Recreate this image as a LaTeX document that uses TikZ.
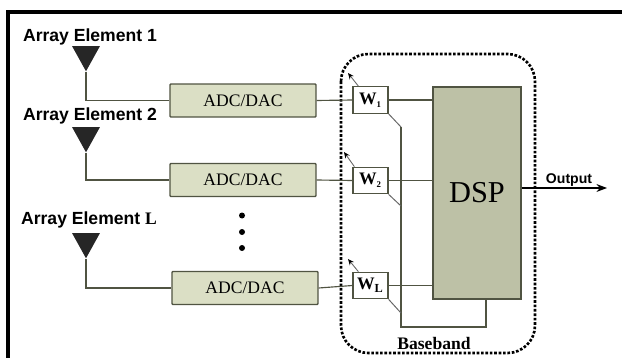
\documentclass[tikz,border=0pt]{standalone}
\usepackage{fontspec}
\setmainfont{Liberation Serif}
\newfontfamily\labelfont{Liberation Sans}
\usepackage{tikz}
\usetikzlibrary{positioning, shapes.geometric, calc, arrows.meta}
\usepackage{xcolor}
\definecolor{adcfill}{RGB}{219,223,197}
\definecolor{dspfill}{RGB}{189,193,166}
\definecolor{wireclr}{RGB}{80,84,66}

\begin{document}
\begin{tikzpicture}[
    x=0.02cm, y=-0.02cm,
    adc/.style={rectangle, draw=wireclr, fill=adcfill, line width=0.8pt, rounded corners=0.5pt, minimum width=2.92cm, minimum height=0.66cm, font=\normalsize},
    weight/.style={rectangle, draw=wireclr, fill=white, line width=0.7pt, minimum width=0.7cm, minimum height=0.53cm, inner sep=0pt, font=\bfseries\normalsize},
    ant/.style={isosceles triangle, isosceles triangle apex angle=58, shape border rotate=-90, fill=black!85, inner sep=0pt, minimum height=0.5cm, minimum width=0.56cm},
    elem/.style={font=\labelfont\bfseries\normalsize},
    wire/.style={draw=wireclr, line width=0.65pt},
    thin wire/.style={draw=gray!80!black, line width=0.55pt},
    arrow/.style={-{Stealth[black, length=3.5pt, width=3pt]}, draw=gray!80!black, line width=0.5pt},
    vdot/.style={circle, fill=black, inner sep=0pt, minimum size=0.12cm}
]
\useasboundingbox (0,0) rectangle (622,358);
\path[fill=white] (0,0) rectangle (622,358);

% Outer frame
\draw[line width=1.8pt] (8,358) -- (8,12) -- (622,12);

% Baseband region
\draw[line width=1.5pt, densely dotted, rounded corners=0.55cm] (341,54) rectangle (535,353);
\node[font=\bfseries\normalsize] (base) at (434,343.5) {Baseband};

% Antennas
\node[ant, anchor=apex] (ant1) at (86,72) {};
\node[ant, anchor=apex] (ant2) at (86,153) {};
\node[ant, anchor=apex] (ant3) at (86,259) {};
\node[elem] (lab1) at (90,37) {Array Element 1};
\node[elem] (lab2) at (90,115.5) {Array Element 2};
\node[elem] (lab3) at (89,219.5) {Array Element {\rmfamily L}};

% Boxes
\node[adc] (adc1) at (243,100.5) {ADC/DAC};
\node[adc] (adc2) at (243,180) {ADC/DAC};
\node[adc] (adc3) at (245,288) {ADC/DAC};
\node[weight] (w1) at (370.5,100) {W\textsubscript{\tiny 1}};
\node[weight] (w2) at (370.5,180.5) {W\textsubscript{\tiny 2}};
\node[weight] (wl) at (370.5,285.5) {W\textsubscript{L}};
\node[rectangle, draw=wireclr, fill=dspfill, line width=0.9pt, minimum width=1.76cm, minimum height=4.24cm, font=\LARGE] (dsp) at (477,193) {DSP};

% Dots
\node[vdot] (d1) at (242,215.5) {};
\node[vdot] (d2) at (242,232) {};
\node[vdot] (d3) at (242,248) {};

% Feed lines
\draw[wire] (ant1.apex) |- (adc1.west);
\draw[wire] (ant2.apex) |- (adc2.west);
\draw[wire] (ant3.apex) |- (adc3.west);
\draw[wire] (adc1.east) -- (w1.west);
\draw[wire] (adc2.east) -- (w2.west);
\draw[wire] (adc3.east) -- (wl.west);
\draw[wire] (w1.east) -- (w1.east -| dsp.west);
\draw[wire] (w2.east) -- (w2.east -| dsp.west);
\draw[wire] (wl.east) -- (wl.east -| dsp.west);

% Feedback bus
\coordinate (bus1) at (401,127);
\coordinate (bus2) at (401,206);
\coordinate (bus3) at (401,313);
\coordinate (busend) at (401,327);
\coordinate (dspout) at (486,299);
\draw[wire] (bus1) -- (busend) -| (dspout);
\draw[thin wire] (w1.south east) -- (bus1);
\draw[thin wire] (w2.south east) -- (bus2);
\draw[thin wire] (wl.south east) -- (bus3);

% Adaptive arrows
\coordinate (tip1) at (348,73);
\coordinate (tip2) at (344,152);
\coordinate (tip3) at (348,259);
\draw[arrow] ($(w1.north west)+(6,0)$) -- (tip1);
\draw[arrow] ($(w2.north west)+(2,0)$) -- (tip2);
\draw[arrow] ($(wl.north west)+(6,0)$) -- (tip3);

% Output
\coordinate (out) at (607,188);
\draw[-{Stealth[length=6pt, width=4.5pt]}, line width=0.8pt] (dsp.east |- out) -- (out);
\node[elem, font=\labelfont\bfseries\footnotesize] (outlab) at (569,180.5) {Output};
\end{tikzpicture}
\end{document}
